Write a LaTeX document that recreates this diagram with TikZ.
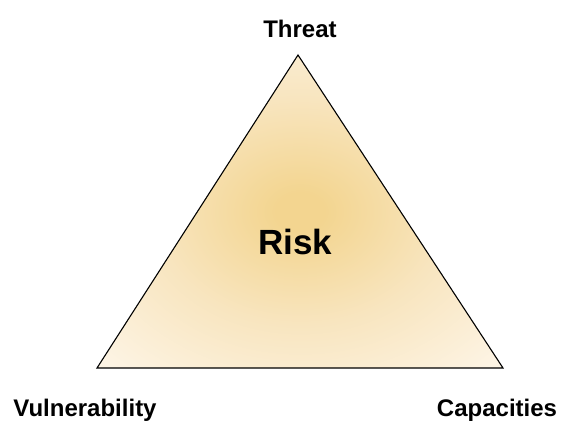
\documentclass[tikz,border=0pt]{standalone}
\usepackage{fontspec}
\setmainfont{Liberation Sans}
\definecolor{riskcore}{HTML}{F3D590}
\definecolor{riskmid}{HTML}{F8E5BF}
\definecolor{riskedge}{HTML}{FDF4E4}
\pgfdeclareradialshading{riskglow}{\pgfpoint{0bp}{0bp}}{color(0bp)=(riskcore); color(3bp)=(riskcore); color(18bp)=(riskmid); color(34bp)=(riskedge); color(50bp)=(riskedge)}
\begin{document}
\begin{tikzpicture}[x=1pt,y=1pt,
  lbl/.style={font=\bfseries\fontsize{24}{26}\selectfont, inner sep=0pt, anchor=base},
  biglbl/.style={font=\bfseries\fontsize{35}{38}\selectfont, inner sep=0pt, anchor=base}]
\useasboundingbox (0,0) rectangle (575,421);
\coordinate (apex) at (298,366);
\coordinate (bl) at (97,53);
\coordinate (br) at (503,53);
\path[shading=riskglow, draw=black, line width=1.1pt, line join=miter] (apex) -- (br) -- (bl) -- cycle;
\node[lbl] (threat) at (300,383) {Threat};
\node[biglbl] (risk) at (295,167) {Risk};
\node[lbl] (vul) at (85,5) {Vulnerability};
\node[lbl] (cap) at (497,5) {Capacities};
\end{tikzpicture}
\end{document}
